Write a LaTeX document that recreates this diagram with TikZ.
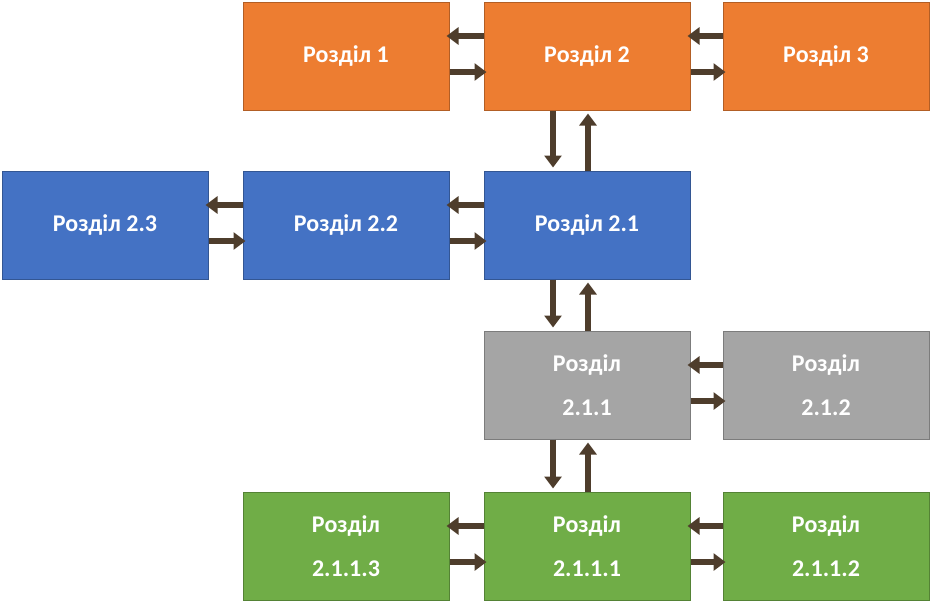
\documentclass[tikz,border=0pt]{standalone}
\usepackage{fontspec}
\setmainfont{Carlito}
\usetikzlibrary{arrows.meta}
\definecolor{orng}{HTML}{ED7D31}
\definecolor{blu}{HTML}{4472C4}
\definecolor{gry}{HTML}{A5A5A5}
\definecolor{grn}{HTML}{70AD47}
\definecolor{brn}{HTML}{4E3D2C}
\begin{document}
\begin{tikzpicture}[x=1pt,y=-1pt,
  box/.style={draw=#1!75!black,fill=#1,line width=1pt,minimum width=206pt,minimum height=108pt,
    text=white,font=\fontsize{24}{44}\selectfont\bfseries,align=center,inner sep=0pt},
  arr/.style={brn,line width=6pt,-{Triangle[width=17pt,length=12pt]}}]
  \useasboundingbox (0,0) rectangle (931,614);
  \node[box=orng] (r1) at (346,56) {Розділ 1};
  \node[box=orng] (r2) at (587,56) {Розділ 2};
  \node[box=orng] (r3) at (826,56) {Розділ 3};
  \node[box=blu] (r23) at (105,225) {Розділ 2.3};
  \node[box=blu] (r22) at (346,225) {Розділ 2.2};
  \node[box=blu] (r21) at (587,225) {Розділ 2.1};
  \node[box=gry] (r211) at (587,385) {Розділ\\2.1.1};
  \node[box=gry] (r212) at (826,385) {Розділ\\2.1.2};
  \node[box=grn] (r2113) at (346,546) {Розділ\\2.1.1.3};
  \node[box=grn] (r2111) at (587,546) {Розділ\\2.1.1.1};
  \node[box=grn] (r2112) at (826,546) {Розділ\\2.1.1.2};
  % horizontal pairs
  \foreach \a/\b in {r1/r2,r2/r3,r23/r22,r22/r21,r211/r212,r2113/r2111,r2111/r2112}{
    \draw[arr] ([yshift=-16]\a.east) -- ([yshift=-16,xshift=3]\b.west);
    \draw[arr] ([yshift=20]\b.west) -- ([yshift=20,xshift=-3]\a.east);
  }
  % vertical pairs
  \foreach \a/\b in {r2/r21,r21/r211,r211/r2111}{
    \draw[arr] ([xshift=-34]\a.south) -- ([xshift=-34,yshift=3]\b.north);
    \draw[arr] ([xshift=1]\b.north) -- ([xshift=1,yshift=-3]\a.south);
  }
\end{tikzpicture}
\end{document}
